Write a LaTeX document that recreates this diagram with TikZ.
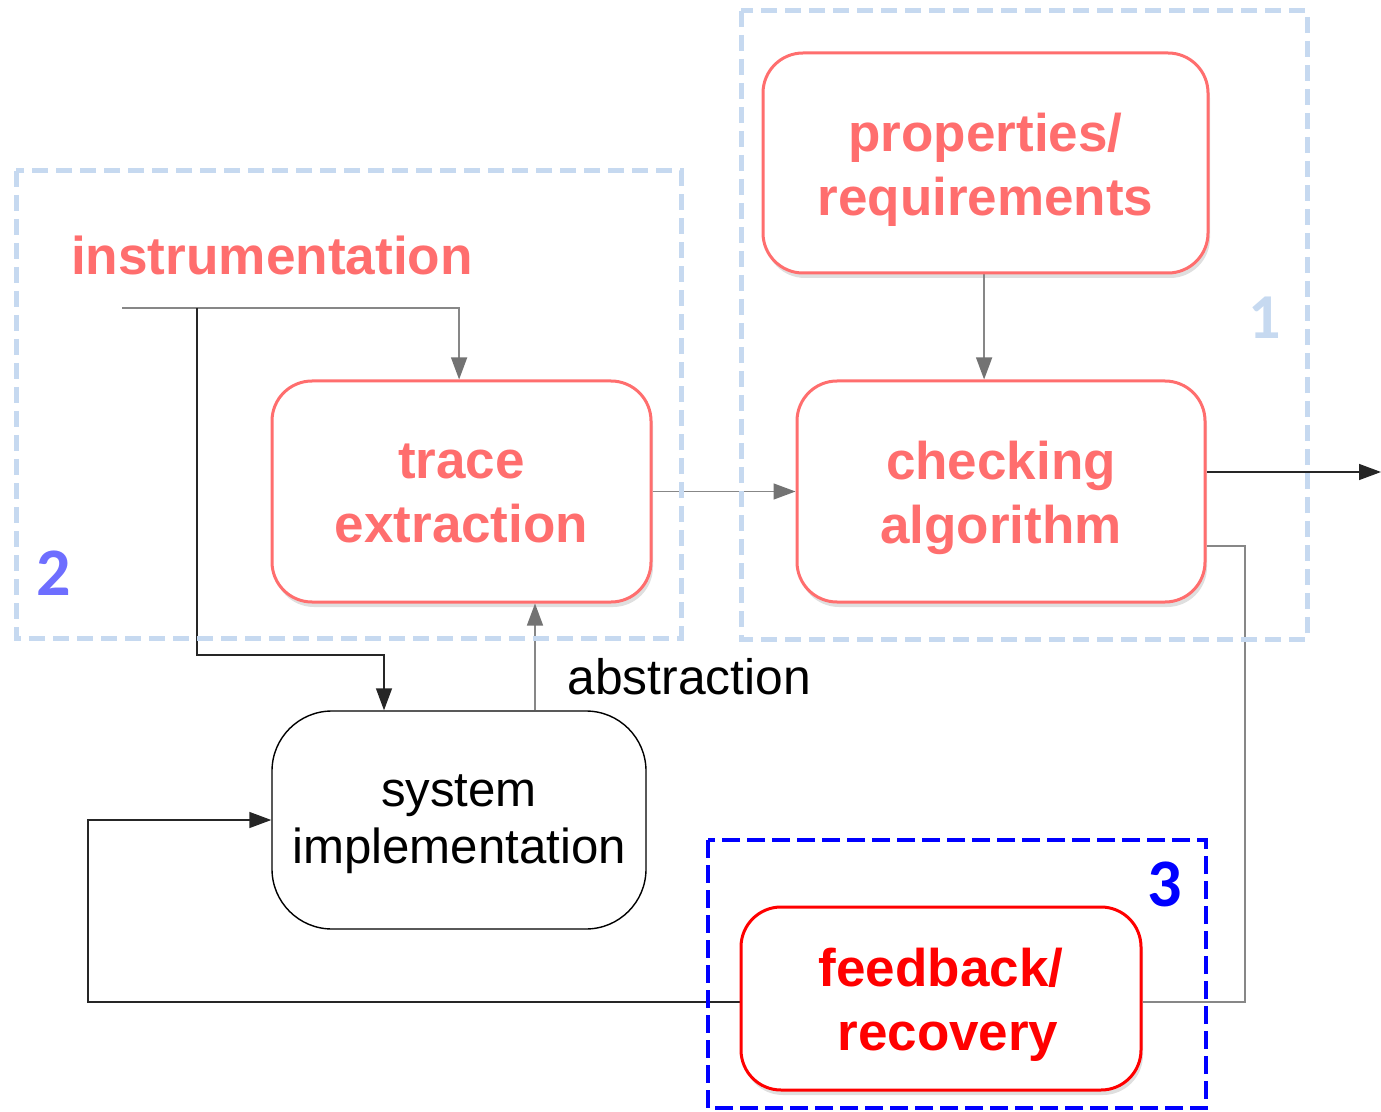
\documentclass[tikz,border=0pt]{standalone}
\usepackage{fontspec}
\setmainfont{Liberation Sans}
\newfontfamily\numfont{Carlito}
\usetikzlibrary{arrows.meta,shadows}
\definecolor{salmon}{RGB}{255,110,110}
\definecolor{lblue}{RGB}{198,217,240}
\definecolor{mblue}{RGB}{110,110,255}
\definecolor{arrgray}{RGB}{115,115,115}
\definecolor{linegray}{RGB}{135,135,135}
\newcommand\dn[2]{\raisebox{-#1}[\height][\depth]{#2}}
\pgfdeclarelayer{bg}
\pgfdeclarelayer{mid}
\pgfsetlayers{bg,mid,main}
\tikzset{
 rbox/.style={draw=salmon, line width=1.5pt, rounded corners=20pt, fill=white, align=center, text=salmon,
   font=\bfseries\fontsize{26.5}{32}\selectfont,
   drop shadow={opacity=0.25, shadow xshift=1pt, shadow yshift=-2.5pt}, inner sep=0pt},
 grayline/.style={draw=linegray, line width=0.7pt},
 grayarrow/.style={grayline, -{Triangle[length=11pt,width=8pt,color=arrgray]}},
 blackline/.style={draw=black!85, line width=0.7pt},
 blackarrow/.style={blackline, -{Triangle[length=11pt,width=8pt]}},
 groupbox/.style={draw=lblue, line width=2.5pt, dash pattern=on 8pt off 4pt},
 bluebox/.style={draw=blue, line width=2.2pt, dash pattern=on 9pt off 3.5pt},
 numlabel/.style={font=\numfont\bfseries\fontsize{34}{34}\selectfont, inner sep=0pt},
}
\begin{document}
\begin{tikzpicture}[x=0.5pt,y=-0.5pt]
\useasboundingbox (0,0) rectangle (1381,1112);

% nodes
\node[rbox, minimum width=222.5pt, minimum height=110pt] (prop) at (985.5,163) {\dn{3.5pt}{properties/}\\\dn{3.5pt}{requirements}};
\node[rbox, minimum width=189.5pt, minimum height=110.5pt] (trace) at (461.5,491.5) {\dn{1.2pt}{trace}\\\dn{1.2pt}{extraction}};
\node[rbox, minimum width=204pt, minimum height=110.5pt] (check) at (1001,491.5) {\dn{3.2pt}{checking}\\\dn{3.2pt}{algorithm}};
\node[rbox, draw=red, text=red, minimum width=200pt, minimum height=91.5pt] (fb) at (941,998.5) {\dn{3.2pt}{feedback/}\\\dn{3.2pt}{\hspace{7pt}recovery}};
\node[draw=black, line width=0.7pt, rounded corners=30pt, minimum width=187pt, minimum height=109pt,
      align=center, font=\fontsize{24.6}{28.8}\selectfont, fill=white, inner sep=0pt] (sys) at (459,820) {\dn{2pt}{system}\\\dn{2pt}{implementation}};

\node[text=salmon, font=\bfseries\fontsize{26.6}{31.5}\selectfont, inner sep=0pt] (instr) at (272,255) {instrumentation};
\node[font=\fontsize{24.9}{28.5}\selectfont, anchor=west, inner sep=0pt] (abs) at (567,677) {abstraction};

\node[numlabel, text=lblue, font=\numfont\bfseries\fontsize{32}{32}\selectfont] (n1) at (1265,318) {1};
\node[numlabel, text=mblue] (n2) at (54,573) {2};
\node[numlabel, text=blue] (n3) at (1165,884) {3};

% coordinates
\coordinate (i0) at (122,308);
\coordinate (i1) at (197,308);
\coordinate (out) at (1381,472);
\coordinate (c1) at (1245,1002);
\coordinate (c2) at (88,1002);

% groups
\begin{pgfonlayer}{mid}
\draw[groupbox] (16,171) rectangle (681,638);
\draw[groupbox] (741,11) rectangle (1307,639);
\draw[bluebox] (708,840) rectangle (1206,1108);
\end{pgfonlayer}

% connectors
\begin{pgfonlayer}{bg}
\draw[grayarrow] (i0) -| ([xshift=-1.2pt]trace.north);
\draw[blackarrow] (i1) -- (197,655) -| ([xshift=-37.5pt]sys.north);
\draw[grayarrow] (trace.east) -- (check.west);
\draw[grayarrow] ([xshift=38pt]sys.north) -- ([xshift=38pt]sys.north |- trace.south);
\draw[grayarrow] ([xshift=-0.7pt]prop.south) -- ([xshift=-0.7pt]prop.south |- check.north);
\draw[blackarrow] ([yshift=9.75pt]check.east) -- (out);
\draw[grayline] ([yshift=-27.25pt]check.east) -| (c1) -- (c1 -| fb.east);
\draw[blackarrow] (c2 -| fb.west) -- (c2) |- (sys.west);
\end{pgfonlayer}
\end{tikzpicture}
\end{document}
